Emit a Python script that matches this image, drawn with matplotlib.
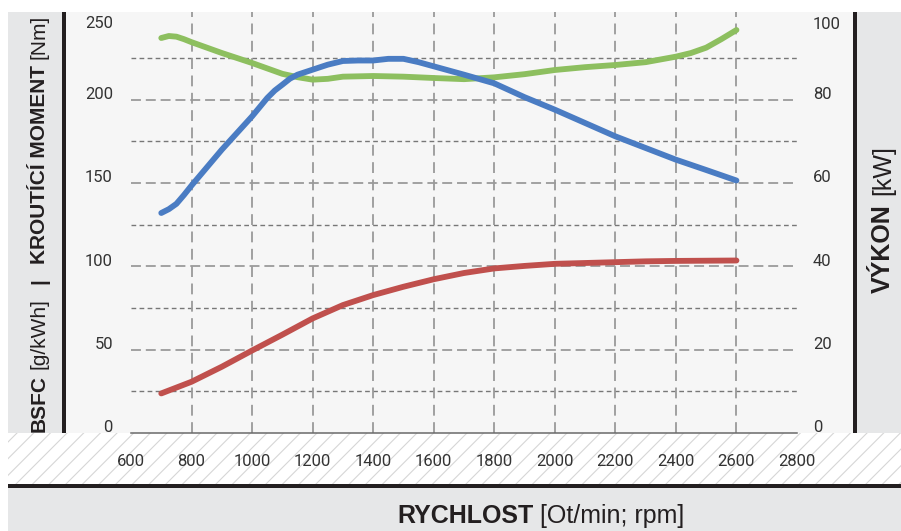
import matplotlib
matplotlib.use("Agg")
import matplotlib.pyplot as plt
from matplotlib.patches import Rectangle
from matplotlib import transforms as mtrans

# ---------------- data ----------------
rpm_torque = [700, 725, 750, 775, 800, 900, 1000, 1050, 1075, 1100, 1125, 1150, 1200, 1250, 1300,
              1350, 1400, 1450, 1500, 1550, 1600, 1700, 1800, 1900, 2000, 2100, 2200, 2300,
              2400, 2500, 2600]
torque_nm = [132, 134.3, 137.5, 142.8, 148.5, 170, 190, 201, 205.5, 209, 212.6, 215, 218, 221, 223.2,
             223.5, 223.5, 224.5, 224.5, 222.5, 220, 215, 209.8, 201.5, 194, 186, 178, 171,
             164, 157.8, 151.5]

rpm_bsfc = [700, 725, 750, 775, 800, 900, 1000, 1100, 1150, 1200, 1250, 1300, 1400, 1500, 1600,
            1700, 1800, 1900, 2000, 2100, 2200, 2300, 2400, 2450, 2500, 2550, 2600]
bsfc_gkwh = [237, 238.2, 237.8, 236.3, 234.5, 228, 222, 215.5, 213.5, 212, 212.5, 213.8, 214.2,
             213.8, 213, 212.3, 213.4, 215.3, 217.8, 219.5, 220.8, 222.5, 225.8, 228, 231.2,
             236.3, 241.8]

rpm_power = [700, 800, 900, 1000, 1100, 1200, 1300, 1400, 1500, 1600, 1700, 1800, 1900, 2000,
             2100, 2200, 2300, 2400, 2500, 2600]
power_kw = [9.5, 12.3, 15.9, 19.8, 23.6, 27.5, 30.7, 33.1, 35.1, 36.9, 38.4, 39.5, 40.1, 40.6,
            40.8, 41.0, 41.2, 41.3, 41.35, 41.4]

x_ticks = [600, 800, 1000, 1200, 1400, 1600, 1800, 2000, 2200, 2400, 2600, 2800]
x_grid = [800, 1000, 1200, 1400, 1600, 1800, 2000, 2200, 2400, 2600]
left_ticks = [0, 50, 100, 150, 200, 250]
right_ticks = [0, 20, 40, 60, 80, 100]
major_h = [50, 100, 150, 200]
minor_h = [25, 75, 125, 175, 225]

# ---------------- figure ----------------
W, H = 901, 531
fig = plt.figure(figsize=(W / 100, H / 100), dpi=100)
fig.patch.set_facecolor("white")
plt.rcParams["hatch.linewidth"] = 0.8

GRAY = "#e6e7e8"
BLACK = "#231f20"
TXT = "#333333"


def rect(x0, y0, x1, y1, z=-10, **kw):
    fig.patches.append(Rectangle((x0 / W, 1 - y1 / H), (x1 - x0) / W, (y1 - y0) / H,
                                 transform=fig.transFigure, zorder=z, **kw))


rect(8, 12, 62, 433, facecolor=GRAY, lw=0)
rect(62, 12, 855, 433, facecolor="#f6f6f6", lw=0)
rect(855, 12, 901, 433, facecolor=GRAY, lw=0)
rect(8, 433, 901, 484, facecolor="white", edgecolor="#d6d6d6", hatch="//", lw=0)
rect(8, 487, 901, 531, facecolor=GRAY, lw=0)
rect(62, 12, 65.5, 433, z=-9, facecolor=BLACK, lw=0)
rect(853, 12, 857, 433, z=-9, facecolor=BLACK, lw=0)
rect(8, 483.5, 901, 487.5, z=-9, facecolor=BLACK, lw=0)

# ---------------- axes ----------------
YTOP = 252.6
ax = fig.add_axes([131 / W, 1 - 433 / H, (797 - 131) / W, (433 - 12) / H])
ax.set_zorder(1)
ax.set_xlim(600, 2800)
ax.set_ylim(0, YTOP)
ax.patch.set_visible(False)
for s in ax.spines.values():
    s.set_visible(False)
ax.set_xticks([])
ax.set_yticks([])

for v in major_h:
    ax.axhline(v, color="#8a8a8a", lw=1.1, dashes=(6.5, 3.2), zorder=1)
for v in minor_h:
    ax.axhline(v, color="#777777", lw=1.0, dashes=(3.4, 2.4), zorder=1)
for xv in x_grid:
    ax.axvline(xv, color="#9a9a9a", lw=1.3, dashes=(6.0, 3.6), zorder=1)
ax.axhline(0, color="#6a6a6a", lw=1.1, zorder=2, clip_on=False)

ax2 = ax.twinx()
ax2.set_zorder(2)
ax2.set_ylim(0, YTOP / 2.5)
ax2.patch.set_visible(False)
for s in ax2.spines.values():
    s.set_visible(False)
ax2.set_xticks([])
ax2.set_yticks([])

lw = 4.2
ax.plot(rpm_bsfc, bsfc_gkwh, color="#8dbf5f", lw=lw, solid_capstyle="round",
        solid_joinstyle="round", zorder=3)
ax.plot(rpm_torque, torque_nm, color="#4a7cc3", lw=lw, solid_capstyle="round",
        solid_joinstyle="round", zorder=4)
ax2.plot(rpm_power, power_kw, color="#c0504d", lw=lw, solid_capstyle="round",
         solid_joinstyle="round", zorder=4)

# ---------------- tick labels ----------------
TF = "Roboto"
TS = 12
for v in left_ticks:
    off = -7 if v == 250 else 5
    tr = mtrans.offset_copy(mtrans.blended_transform_factory(fig.transFigure, ax.transData),
                            fig=fig, x=0, y=off, units="dots")
    ax.text(113 / W, v, str(v), transform=tr, ha="right", va="center",
            fontsize=TS, family=TF, color=TXT, clip_on=False)
for v in right_ticks:
    off = -8 if v == 100 else 5
    tr = mtrans.offset_copy(mtrans.blended_transform_factory(fig.transFigure, ax2.transData),
                            fig=fig, x=0, y=off, units="dots")
    ax2.text(813 / W, v, str(v), transform=tr, ha="left", va="center",
             fontsize=TS, family=TF, color=TXT, clip_on=False)
trx = mtrans.blended_transform_factory(ax.transData, fig.transFigure)
for v in x_ticks:
    ax.text(v, 1 - 462 / H, str(v), transform=trx, ha="center", va="center",
            fontsize=TS, family=TF, color=TXT, clip_on=False)

# ---------------- axis titles (mixed bold / regular) ----------------
renderer = fig.canvas.get_renderer()
FAM = "Liberation Sans"


def width_of(s, size, weight):
    t = fig.text(0, 0, s, fontsize=size, family=FAM, fontweight=weight)
    w = t.get_window_extent(renderer).width
    t.remove()
    return w


def rich(parts, x, y, size, rotation):
    # parts: list of (text, weight, gap_before_px); x, y in top-left pixel coords (baseline start)
    pos = 0.0
    for s, weight, gap in parts:
        pos += gap
        if rotation == 90:
            px, py = x, H - (y - pos)
        else:
            px, py = x + pos, H - y
        fig.text(px / W, py / H, s, fontsize=size, family=FAM, fontweight=weight,
                 color=BLACK, rotation=rotation, rotation_mode="anchor",
                 ha="left", va="baseline")
        pos += width_of(s, size, weight)


left_parts = [("BSFC", "bold", 0), ("[g/kWh]", "normal", 6), ("|", "bold", 14),
              ("KROUTÍCÍ MOMENT", "bold", 14), ("[Nm]", "normal", 6)]
rich(left_parts, 45, 432, 15, 90)

right_parts = [("VÝKON", "bold", 0), ("[kW]", "normal", 9)]
rich(right_parts, 890, 293, 18, 90)

bottom_parts = [("RYCHLOST", "bold", 0), ("[Ot/min; rpm]", "normal", 7)]
rich(bottom_parts, 397, 523, 18, 0)

fig.savefig("out.png", dpi=100, facecolor="white")
